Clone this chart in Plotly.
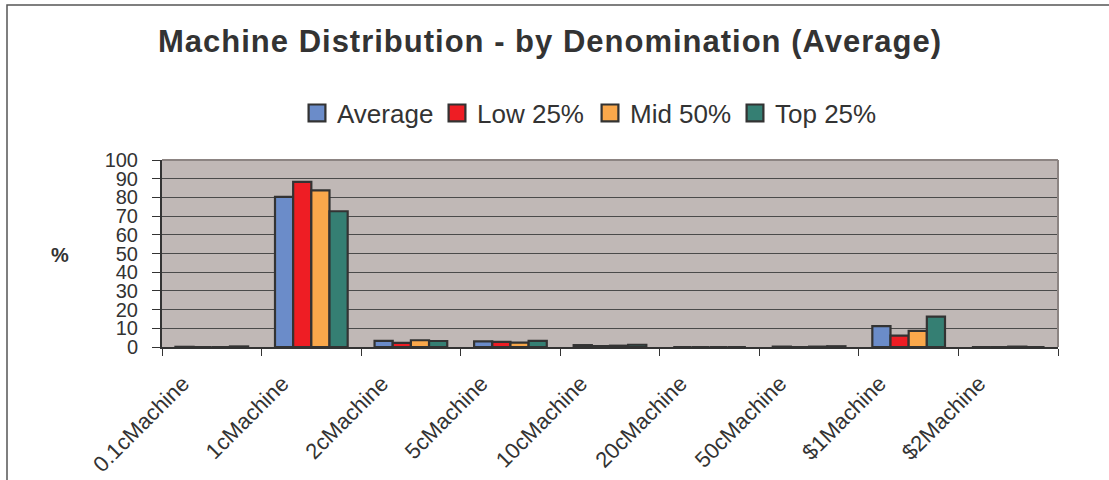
import plotly.graph_objects as go

categories = ["0.1cMachine", "1cMachine", "2cMachine", "5cMachine", "10cMachine",
              "20cMachine", "50cMachine", "$1Machine", "$2Machine"]
average = [0.1, 80.3, 3.3, 3.0, 1.0, 0.0, 0.2, 11.2, 0.0]
low25 = [0.0, 88.3, 2.2, 2.7, 0.5, 0.0, 0.0, 6.1, 0.0]
mid50 = [0.0, 83.8, 3.6, 2.3, 0.7, 0.0, 0.2, 8.6, 0.2]
top25 = [0.3, 72.6, 3.2, 3.3, 1.2, 0.0, 0.4, 16.2, 0.0]
series_names = ["Average", "Low 25%", "Mid 50%", "Top 25%"]
series_values = [average, low25, mid50, top25]
colors = ["#6B8CC9", "#EE1D24", "#FAA84B", "#357F73"]

W, H = 1109, 480
ML, MR, MT, MB = 162, 51, 160, 133
pw = W - ML - MR
ph = H - MT - MB

def px_x(x):
    return (x - ML) / pw

def px_y(y):
    return (H - MB - y) / ph

legend_ids = ["legend", "legend2", "legend3", "legend4"]
legend_left = [297, 437, 590, 735]

font_family = "Liberation Sans, Arial, sans-serif"

fig = go.Figure()
for name, vals, col, lid in zip(series_names, series_values, colors, legend_ids):
    fig.add_trace(go.Bar(
        x=categories, y=vals, name=name, legend=lid,
        marker=dict(color=col, line=dict(color="#333333", width=2.2)),
    ))

legend_layout = {}
for lid, lx in zip(legend_ids, legend_left):
    legend_layout[lid] = dict(
        orientation="h", x=px_x(lx), xanchor="left", y=px_y(113), yanchor="middle",
        font=dict(size=26, color="#333333", family=font_family),
        bgcolor="rgba(0,0,0,0)", itemclick=False, itemdoubleclick=False,
    )

fig.update_layout(
    width=W, height=H,
    margin=dict(l=ML, r=MR, t=MT, b=MB, autoexpand=False),
    paper_bgcolor="white",
    plot_bgcolor="#C0B8B6",
    barmode="group",
    bargap=0.27,
    bargroupgap=0,
    font=dict(family=font_family, color="#333333"),
    showlegend=True,
    title=dict(
        text="<b>Machine Distribution - by Denomination (Average)</b>",
        x=550 / W, xanchor="center", y=1 - 41 / H, yanchor="middle",
        font=dict(size=31, color="#333333", family=font_family),
    ),
    **legend_layout,
)

fig.update_xaxes(
    type="category", tickson="boundaries", ticks="outside", ticklen=7,
    tickcolor="#333333", tickwidth=1, showgrid=False,
    showline=True, linecolor="#333333", linewidth=2,
    tickangle=-45, tickfont=dict(size=22, color="#333333"),
    ticklabelshift=-29, ticklabelstandoff=13,
)
fig.update_yaxes(
    range=[0, 100], dtick=10, ticks="outside", ticklen=8, tickcolor="#333333",
    showgrid=True, gridcolor="#4A4A4A", gridwidth=1, zeroline=False,
    showline=True, linecolor="#333333", linewidth=2,
    tickfont=dict(size=20, color="#333333"), ticklabelstandoff=10,
)

# plot-area border (top/right lighter grey like the original)
fig.add_shape(type="line", xref="paper", yref="paper", x0=0, x1=1, y0=1, y1=1,
              line=dict(color="#8C8482", width=2))
fig.add_shape(type="line", xref="paper", yref="paper", x0=1, x1=1, y0=0, y1=1,
              line=dict(color="#8C8482", width=2))
# outer chart frame
fig.add_shape(type="rect", xref="paper", yref="paper",
              x0=px_x(7), x1=px_x(1120), y0=px_y(490), y1=px_y(5),
              line=dict(color="#555555", width=1.5), layer="below")

fig.add_annotation(text="<b>%</b>", xref="paper", yref="paper",
                   x=px_x(49), y=px_y(255), showarrow=False,
                   font=dict(size=20, color="#333333"))

post = """
document.body.style.margin = '0';
var gd = document.getElementById('{plot_id}');
function tweak() {
  gd.querySelectorAll('.gtitle').forEach(function(e){ e.style.letterSpacing = '1px'; });
  gd.querySelectorAll('.legendpoints path').forEach(function(e){
    if (e.dataset.orig === undefined) { e.dataset.orig = e.getAttribute('transform') || ''; }
    e.setAttribute('transform', e.dataset.orig + ' scale(1.4)');
    e.style.strokeWidth = '1.6px';
  });
}
tweak();
gd.on('plotly_afterplot', tweak);
"""

fig.write_html("out.html", post_script=post, config={"displayModeBar": False})
